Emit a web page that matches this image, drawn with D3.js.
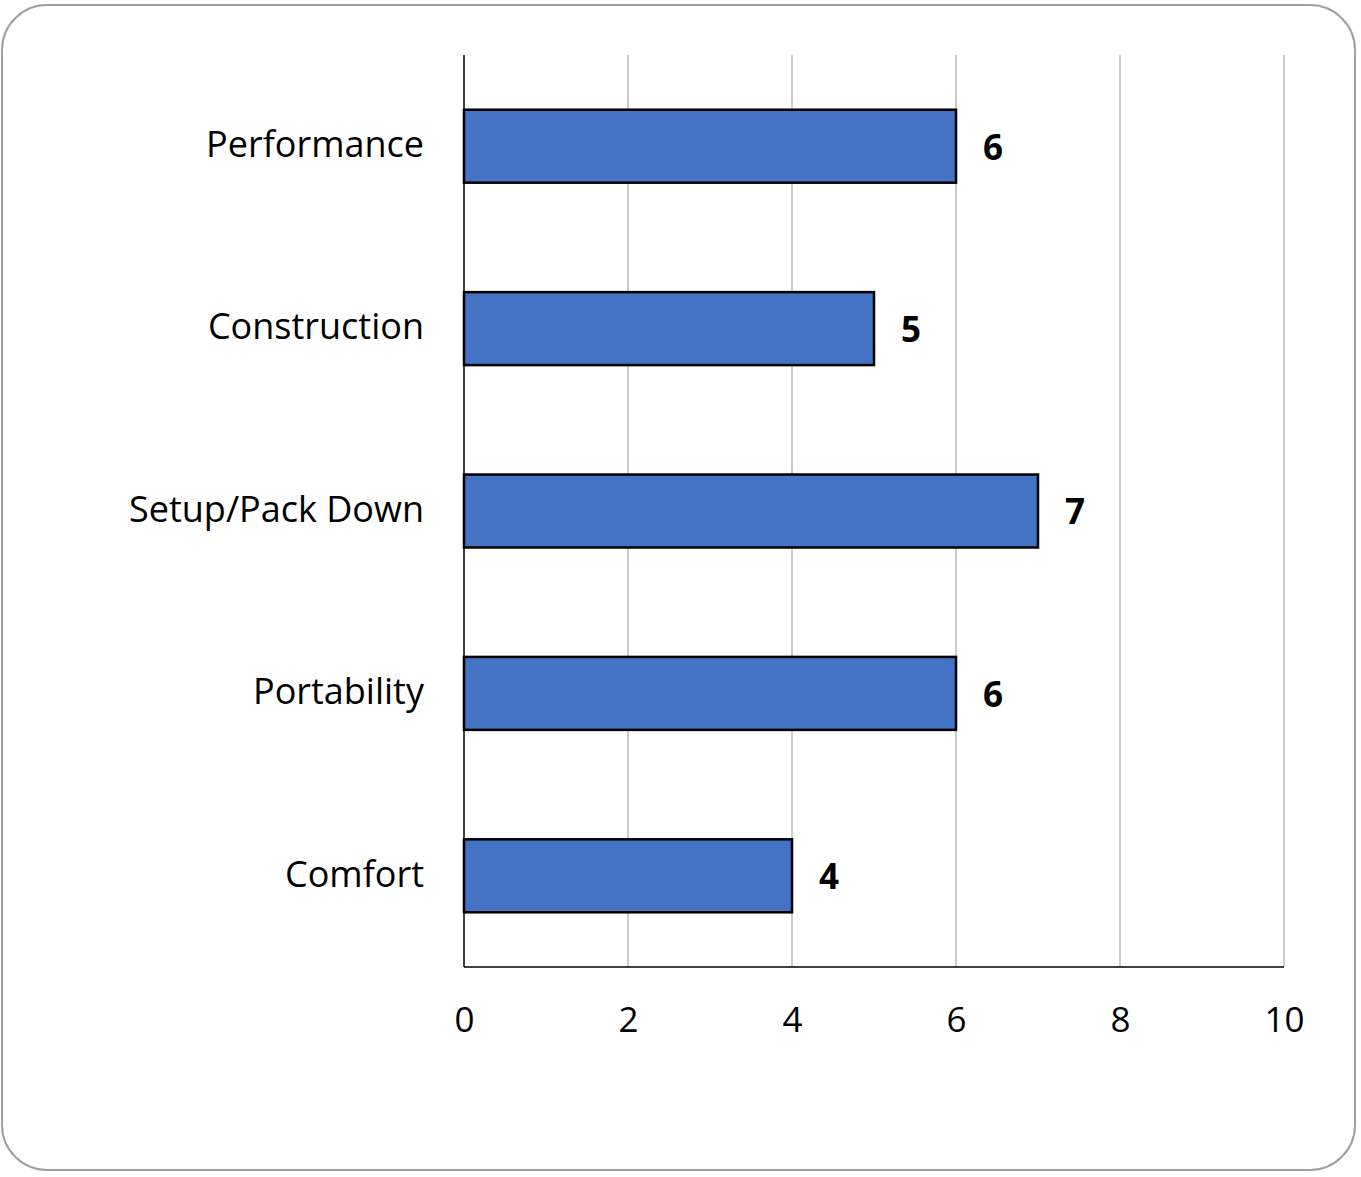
<!DOCTYPE html>
<html>
<head>
<meta charset="utf-8">
<script src="https://cdn.jsdelivr.net/npm/d3@7"></script>
<style>
  body { margin: 0; background: #fff; }
  text { font-family: "Open Sans", "Noto Sans", sans-serif; }
</style>
</head>
<body>
<svg id="chart" width="1361" height="1177"></svg>
<script>
// chart data
var categories = ["Performance", "Construction", "Setup/Pack Down", "Portability", "Comfort"];
var scores = [6, 5, 7, 6, 4];
var tickValues = [0, 2, 4, 6, 8, 10];

var svg = d3.select("#chart");
var plotLeft = 464, plotRight = 1284, plotTop = 55, plotBottom = 967;

// outer rounded frame
svg.append("rect").attr("x", 2).attr("y", 5).attr("width", 1353).attr("height", 1165)
  .attr("rx", 45).attr("fill", "#fff").attr("stroke", "#a0a0a0").attr("stroke-width", 2);

var x = d3.scaleLinear().domain([0, 10]).range([plotLeft, plotRight]);
var y = d3.scaleBand().domain(categories).range([plotTop, plotBottom]).paddingInner(0.6).paddingOuter(0.3);

// vertical gridlines
svg.append("g").selectAll("line").data(tickValues.slice(1)).enter().append("line")
  .attr("x1", function(d){ return x(d); }).attr("x2", function(d){ return x(d); })
  .attr("y1", plotTop).attr("y2", plotBottom)
  .attr("stroke", "#cccccc").attr("stroke-width", 2);

// bottom axis, only labels
var xAxis = svg.append("g").attr("transform", "translate(0," + plotBottom + ")")
  .call(d3.axisBottom(x).tickValues(tickValues).tickSize(0).tickPadding(40));
xAxis.select(".domain").remove();
xAxis.selectAll("text").attr("font-size", 35).attr("fill", "#000")
  .style("font-family", "'Open Sans', 'Noto Sans', sans-serif");

// category labels
var yAxis = svg.append("g").attr("transform", "translate(" + plotLeft + ",0)")
  .call(d3.axisLeft(y).tickSize(0).tickPadding(40));
yAxis.select(".domain").remove();
yAxis.selectAll("text").attr("font-size", 36).attr("fill", "#000").attr("dy", "0.3em")
  .style("font-family", "'Open Sans', 'Noto Sans', sans-serif");

// bars
svg.append("g").selectAll("rect").data(scores).enter().append("rect")
  .attr("x", x(0))
  .attr("y", function(d, i){ return y(categories[i]); })
  .attr("width", function(d){ return x(d) - x(0); })
  .attr("height", y.bandwidth())
  .attr("fill", "#4472C4").attr("stroke", "#000").attr("stroke-width", 2.5);

// value labels
svg.append("g").selectAll("text").data(scores).enter().append("text")
  .attr("x", function(d){ return x(d) + 27; })
  .attr("y", function(d, i){ return y(categories[i]) + y.bandwidth() / 2; })
  .attr("dy", "0.38em")
  .attr("font-size", 35).attr("font-weight", "bold").attr("fill", "#000")
  .text(function(d){ return d; });

// axis lines
svg.append("line").attr("x1", plotLeft).attr("x2", plotLeft).attr("y1", plotTop).attr("y2", plotBottom)
  .attr("stroke", "#000").attr("stroke-width", 1.5);
svg.append("line").attr("x1", plotLeft).attr("x2", plotRight).attr("y1", plotBottom).attr("y2", plotBottom)
  .attr("stroke", "#000").attr("stroke-width", 1.5);
</script>
</body>
</html>
